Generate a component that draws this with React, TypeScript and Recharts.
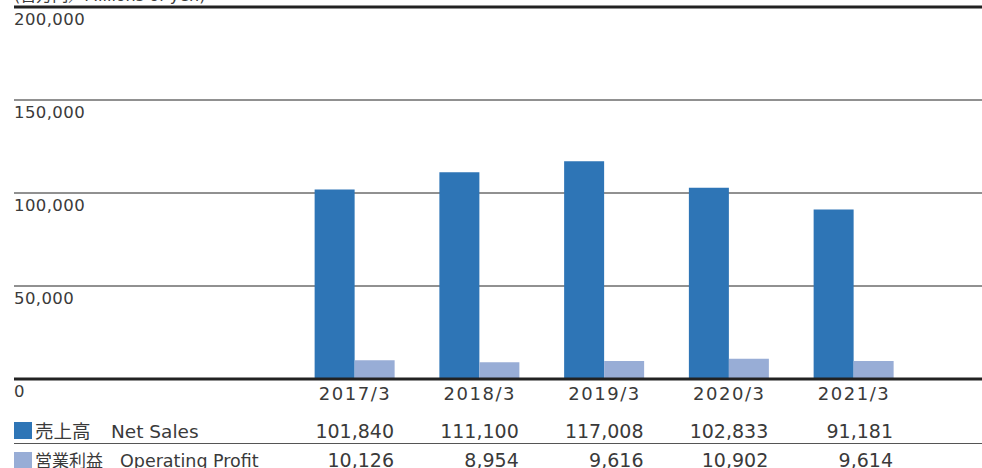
import React from 'react';
import { BarChart, Bar, XAxis, YAxis, CartesianGrid, ReferenceLine } from 'recharts';

const periods = ['2017/3', '2018/3', '2019/3', '2020/3', '2021/3'];
const netSales = [101840, 111100, 117008, 102833, 91181];
const operatingProfit = [10126, 8954, 9616, 10902, 9614];
const yTicks = [0, 50000, 100000, 150000, 200000];

const data = periods.map((period, i) => ({
  idx: i,
  period,
  sales: netSales[i],
  op: operatingProfit[i],
}));

const FONT = "'DejaVu Sans', 'Noto Sans CJK JP', sans-serif";
const TEXT = '#3a3a3a';
const SALES_COLOR = '#2e75b6';
const OP_COLOR = '#98add6';

const fmt = (v: number) => v.toLocaleString('en-US');

function YTick(props: any) {
  const { y, payload } = props;
  return (
    <text x={14} y={y + 18} fill={TEXT} fontSize={16.5} fontFamily={FONT} textAnchor="start" letterSpacing={0.4}>
      {fmt(payload.value)}
    </text>
  );
}

function XTick(props: any) {
  const { x, payload } = props;
  const i = payload.value as number;
  return (
    <g fontFamily={FONT} fill={TEXT}>
      <text x={x} y={400} fontSize={18} textAnchor="middle" letterSpacing={1.5}>{periods[i]}</text>
      <text x={x + 39} y={438} fontSize={19} textAnchor="end">{fmt(netSales[i])}</text>
      <text x={x + 39} y={467} fontSize={19} textAnchor="end">{fmt(operatingProfit[i])}</text>
    </g>
  );
}

export default function App() {
  return (
    <div style={{ position: 'absolute', left: 0, top: 0, width: 982, height: 468, background: '#fff', overflow: 'hidden' }}>
      <BarChart
        width={982}
        height={468}
        data={data}
        margin={{ top: 7, right: 0, left: 14, bottom: 0 }}
        barGap={0}
      >
        <CartesianGrid horizontal vertical={false} stroke="#222" strokeWidth={1} />
        <XAxis
          dataKey="idx"
          type="number"
          domain={[-2.7335, 5.026]}
          ticks={[0, 1, 2, 3, 4]}
          allowDataOverflow
          height={89}
          tickLine={false}
          axisLine={{ stroke: '#222', strokeWidth: 3 }}
          tick={<XTick />}
          interval={0}
        />
        <YAxis
          domain={[0, 200000]}
          ticks={yTicks}
          width={80}
          mirror
          axisLine={false}
          tickLine={false}
          tick={<YTick />}
          interval={0}
        />
        <ReferenceLine y={200000} stroke="#222" strokeWidth={3} />
        <Bar dataKey="sales" fill={SALES_COLOR} barSize={40} isAnimationActive={false} />
        <Bar dataKey="op" fill={OP_COLOR} barSize={40} isAnimationActive={false} />
      </BarChart>
      <svg width={982} height={468} style={{ position: 'absolute', left: 0, top: 0, pointerEvents: 'none' }}>
        <g fontFamily={FONT} fill={TEXT}>
          <text x={14} y={1} fontSize={16}>(百万円／Millions of yen)</text>
          <rect x={14} y={422} width={18} height={17} fill={SALES_COLOR} />
          <text x={35} y={438} fontSize={18.5}>売上高</text>
          <text x={111} y={438} fontSize={18.5}>Net Sales</text>
          <line x1={14} x2={982} y1={443.5} y2={443.5} stroke="#555" strokeWidth={1} />
          <rect x={14} y={452} width={18} height={17} fill={OP_COLOR} />
          <text x={35} y={467} fontSize={17}>営業利益</text>
          <text x={120} y={467} fontSize={17.5}>Operating Profit</text>
        </g>
      </svg>
    </div>
  );
}
